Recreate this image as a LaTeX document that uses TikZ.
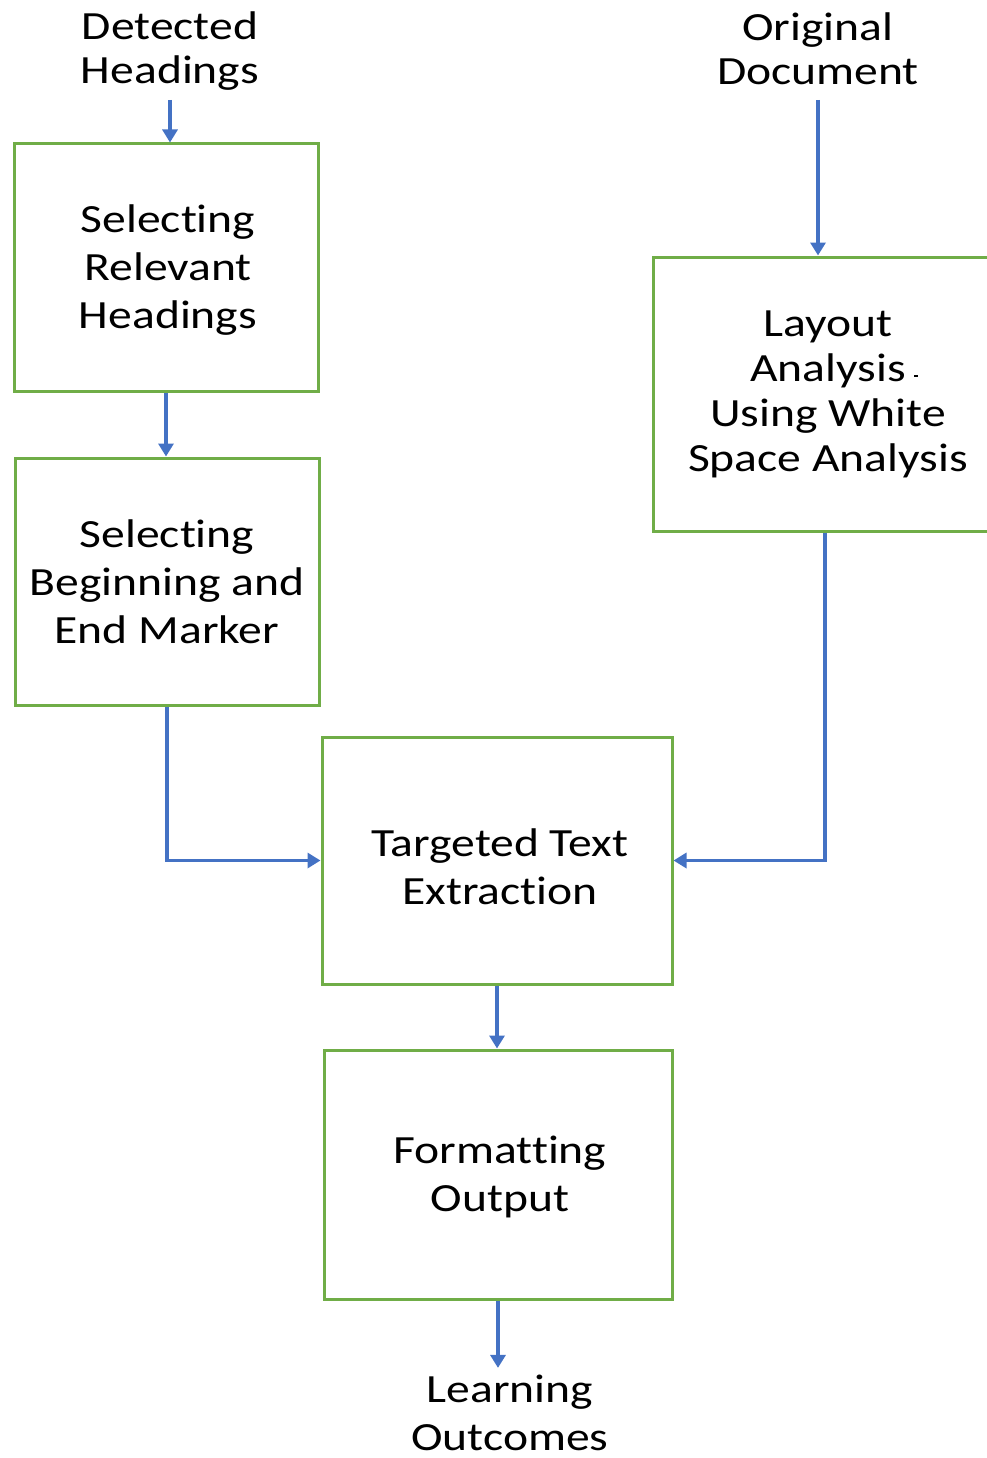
\documentclass[tikz,border=0pt]{standalone}
\usepackage{fontspec}
\setmainfont{Carlito}[FakeStretch=1.19, Ligatures={NoCommon}]
\usetikzlibrary{arrows.meta}
\definecolor{boxgreen}{HTML}{70AD47}
\definecolor{arrowblue}{HTML}{4472C4}
\begin{document}
\begin{tikzpicture}[x=1pt,y=-1pt,
  every node/.style={font=\fontsize{40}{48}\selectfont, align=center, inner sep=0pt},
  procbox/.style={draw=boxgreen, line width=3pt, minimum width=#1, inner sep=0pt},
  tight/.style={font=\fontsize{40}{44}\selectfont},
  flow/.style={draw=arrowblue, line width=3.5pt, -{Triangle[length=13pt,width=15pt]}}]
\useasboundingbox (0,0) rectangle (987,1458);
% boxes
\node[procbox=304pt, minimum height=247pt] (b1) at (166,267.5) {};
\node[procbox=304pt, minimum height=247pt] (b2) at (167,581.5) {};
\node[procbox=350pt, minimum height=274pt] (b3) at (828,394) {};
\node[procbox=350pt, minimum height=247pt] (b4) at (497,860.5) {};
\node[procbox=348pt, minimum height=249pt] (b5) at (498,1174.5) {};
% box texts
\node (t1) at (168,270) {Selecting\\Relevant\\Headings};
\node (t2) at (167,581.5) {Selecting\\Beginning and\\End Marker};
\node[font=\fontsize{40}{45}\selectfont] (t3) at (828,394) {Layout\\Analysis\\Using White\\Space Analysis};
\node (t4) at (500,867) {Targeted Text\\Extraction};
\node (t5) at (500,1176.5) {Formatting\\Output};
% free texts
\node[tight] (det) at (170,51.5) {Detected\\Headings};
\node[tight] (orig) at (818,48.5) {Original\\Document};
\node (learn) at (510,1413) {Learning\\Outcomes};
% stray mark
\fill (914,375) rectangle (918,376.5);
% connectors
\draw[flow] (det.south |- 0,100) -- (det.south |- b1.north);
\draw[flow] (b1.south) -- (b1.south |- b2.north);
\draw[flow] (orig.south |- 0,100) -- (orig.south |- b3.north);
\draw[flow] (b2.south) |- (b4.west);
\draw[flow] ([xshift=-3pt]b3.south) |- (b4.east);
\draw[flow] (b4.south) -- (b4.south |- b5.north);
\draw[flow, shorten >=7pt] (b5.south) -- (b5.south |- learn.north);
\end{tikzpicture}
\end{document}
